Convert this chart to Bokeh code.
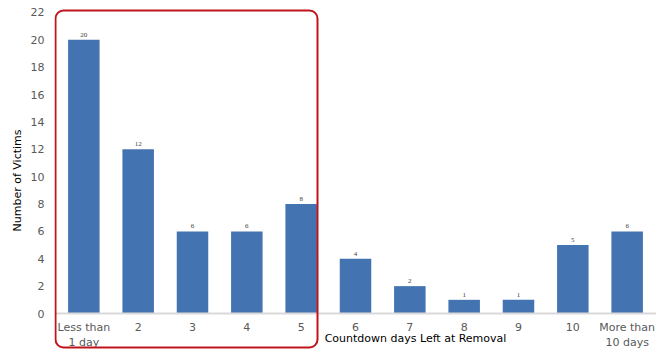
from bokeh.plotting import figure
from bokeh.models import ColumnDataSource, BoxAnnotation, Label, LabelSet, FixedTicker, FactorRange
from bokeh.embed import file_html
from bokeh.resources import INLINE

categories = ["Less than\n1 day", "2", "3", "4", "5", "6", "7", "8", "9", "10", "More than\n10 days"]
victims = [20, 12, 6, 6, 8, 4, 2, 1, 1, 5, 6]
y_ticks = list(range(0, 23, 2))

FONT = "DejaVu Sans"
src = ColumnDataSource(dict(cat=categories, v=victims, txt=[str(v) for v in victims]))

p = figure(x_range=FactorRange(factors=categories, range_padding=0.04, range_padding_units="absolute"),
           y_range=(-2.85, 22.29), width=656, height=352,
           output_backend="svg", toolbar_location=None,
           min_border_left=54, min_border_right=0, min_border_top=8, min_border_bottom=0)
p.outline_line_color = None
p.xgrid.grid_line_color = None
p.ygrid.grid_line_color = None

p.vbar(x="cat", top="v", width=0.58, source=src, fill_color="#4473b1", line_color=None)

labels = LabelSet(x="cat", y="v", text="txt", source=src, text_align="center",
                  text_baseline="bottom", y_offset=3, text_font_size="7px",
                  text_color="#404040", text_font=FONT)
p.add_layout(labels)

p.yaxis.ticker = FixedTicker(ticks=y_ticks)
p.yaxis.axis_line_color = None
p.yaxis.major_tick_line_color = None
p.yaxis.minor_tick_line_color = None
p.yaxis.major_label_text_font = FONT
p.yaxis.major_label_text_font_size = "11px"
p.yaxis.major_label_text_color = "#595959"
p.yaxis.major_label_standoff = 4
p.yaxis.axis_label = "Number of Victims"
p.yaxis.axis_label_text_font = FONT
p.yaxis.axis_label_text_font_size = "11px"
p.yaxis.axis_label_text_font_style = "normal"
p.yaxis.axis_label_text_color = "#000000"
p.yaxis.axis_label_standoff = 4

p.xaxis.fixed_location = 0
p.xaxis.axis_line_color = "#d9d9d9"
p.xaxis.axis_line_width = 2
p.xaxis.major_tick_line_color = None
p.xaxis.minor_tick_line_color = None
p.xaxis.major_label_text_font = FONT
p.xaxis.major_label_text_font_size = "11px"
p.xaxis.major_label_text_color = "#595959"
p.xaxis.major_label_standoff = 1

xl = Label(x=361, y=14, x_units="screen", y_units="screen", text="Countdown days Left at Removal",
           text_align="center", text_baseline="middle", text_font=FONT,
           text_font_size="11px", text_color="#000000")
p.add_layout(xl)

box = BoxAnnotation(left=55, right=317, top=10, bottom=347, left_units="canvas", right_units="canvas",
                    top_units="canvas", bottom_units="canvas", fill_alpha=0, line_alpha=1,
                    line_color="#c0141c", line_width=2, border_radius=8)
p.add_layout(box)

open("out.html", "w").write(file_html(p, INLINE))
